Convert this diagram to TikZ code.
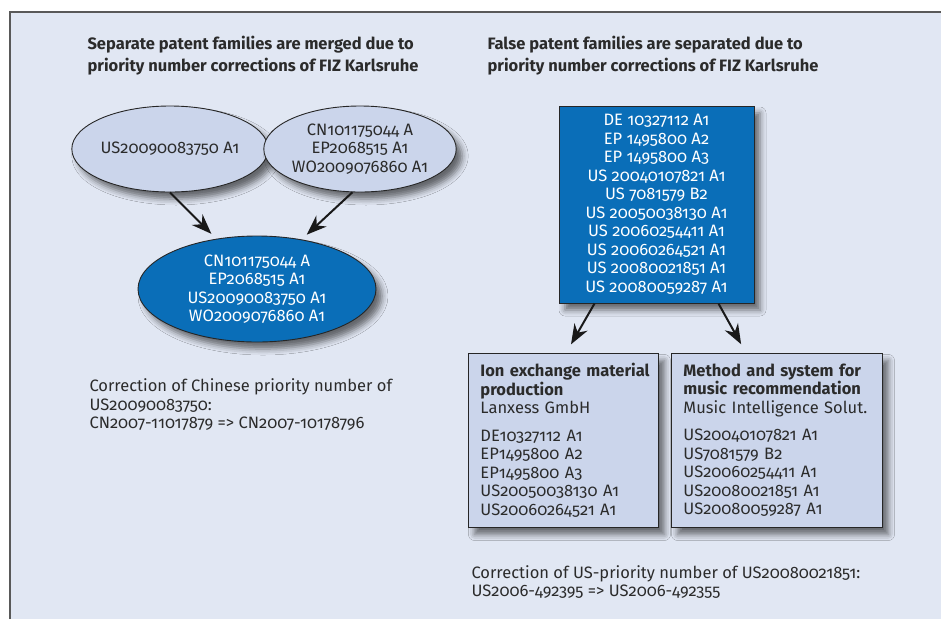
\documentclass[tikz,border=0pt]{standalone}
\usepackage{fontspec}
\setmainfont[Numbers=OldStyle]{Fira Sans}
\usetikzlibrary{shapes.geometric,arrows.meta,shadows.blur}

\definecolor{panelbg}{HTML}{E1E7F3}
\definecolor{famlight}{HTML}{CBD5EB}
\definecolor{famdark}{HTML}{0A6EB8}
\definecolor{inktext}{HTML}{2B2B2B}

\tikzset{
  famshadow/.style={blur shadow={shadow xshift=6pt, shadow yshift=-7pt, shadow blur radius=6pt, shadow opacity=55}},
  famellipse/.style={draw=black!85, line width=0.9pt, ellipse, inner sep=0pt, align=center, famshadow},
  fambox/.style={draw=black!85, line width=0.9pt, rectangle, famshadow},
  merge/.style={-{Stealth[length=20pt,width=15pt]}, line width=2pt, black!90},
  titletext/.style={anchor=west, align=left, text=inktext, font=\fontsize{16.5}{22}\selectfont\bfseries},
  bodytext/.style={anchor=west, align=left, text=inktext, font=\fontsize{16.5}{18.5}\selectfont}
}

\begin{document}
\begin{tikzpicture}[x=1pt, y=-1pt, font=\fontsize{16.5}{18.5}\selectfont]
                    \useasboundingbox (0,0) rectangle (941,619);
                    \fill[panelbg] (10,12) rectangle (941,619);
                    \draw[line width=1.5pt, black!65] (10,619) -- (10,12) -- (941,12);

                    \node[titletext] (mergetitle) at (84,56) {Separate patent families are merged due to\\priority number corrections of FIZ Karlsruhe};
                    \node[titletext] (splittitle) at (484,56) {False patent families are separated due to\\priority number corrections of FIZ Karlsruhe};

                    \node[famellipse, fill=famlight, text=inktext, minimum width=174pt, minimum height=86pt] (famA) at (170,149) {US20090083750 A1};
                    \node[famellipse, fill=famlight, text=inktext, minimum width=188pt, minimum height=86pt] (famB) at (360,149) {CN101175044 A\\EP2068515 A1\\WO2009076860 A1};
                    \node[famellipse, fill=famdark, text=white, minimum width=238pt, minimum height=106pt] (famC) at (257,289) {CN101175044 A\\EP2068515 A1\\US20090083750 A1\\WO2009076860 A1};
                    \draw[merge, shorten >=7pt] (famA.south) -- (famC.129);
                    \draw[merge, shorten >=7pt] (famB.260) -- (famC.48);

                    \node[bodytext] (cncorr) at (86,405) {Correction of Chinese priority number of\\US20090083750:\\CN2007-11017879 => CN2007-10178796};

                    \node[fambox, fill=famdark, text=white, align=center, minimum width=195pt, minimum height=197pt] (famD) at (656.5,204.5) {DE 10327112 A1\\EP 1495800 A2\\EP 1495800 A3\\US 20040107821 A1\\US 7081579 B2\\US 20050038130 A1\\US 20060254411 A1\\US 20060264521 A1\\US 20080021851 A1\\US 20080059287 A1};

                    \node[fambox, fill=famlight, text=inktext, anchor=north west, align=left, inner xsep=12pt, inner ysep=0pt, text width=166pt, minimum width=190pt, minimum height=174pt] (famL) at (468,353) {\mbox{\textbf{Ion exchange material}}\\\textbf{production}\\Lanxess GmbH\\[9pt]DE10327112 A1\\EP1495800 A2\\EP1495800 A3\\US20050038130 A1\\US20060264521 A1};
                    \node[fambox, fill=famlight, text=inktext, anchor=north west, align=left, inner xsep=12pt, inner ysep=0pt, text width=187pt, minimum width=211pt, minimum height=174pt] (famR) at (671,353) {\mbox{\textbf{Method and system for}}\\\mbox{\textbf{music recommendation}}\\Music Intelligence Solut.\\[9pt]US20040107821 A1\\US7081579 B2\\US20060254411 A1\\US20080021851 A1\\US20080059287 A1};
                    \draw[merge, shorten >=10pt] ([xshift=36pt]famD.south west) -- ([xshift=98pt]famL.north west);
                    \draw[merge, shorten >=10pt] ([xshift=-36pt]famD.south east) -- ([xshift=75pt]famR.north west);

                    \node[bodytext] (uscorr) at (468,582) {Correction of US-priority number of US20080021851:\\US2006-492395 => US2006-492355};
                \end{tikzpicture}
\end{document}
